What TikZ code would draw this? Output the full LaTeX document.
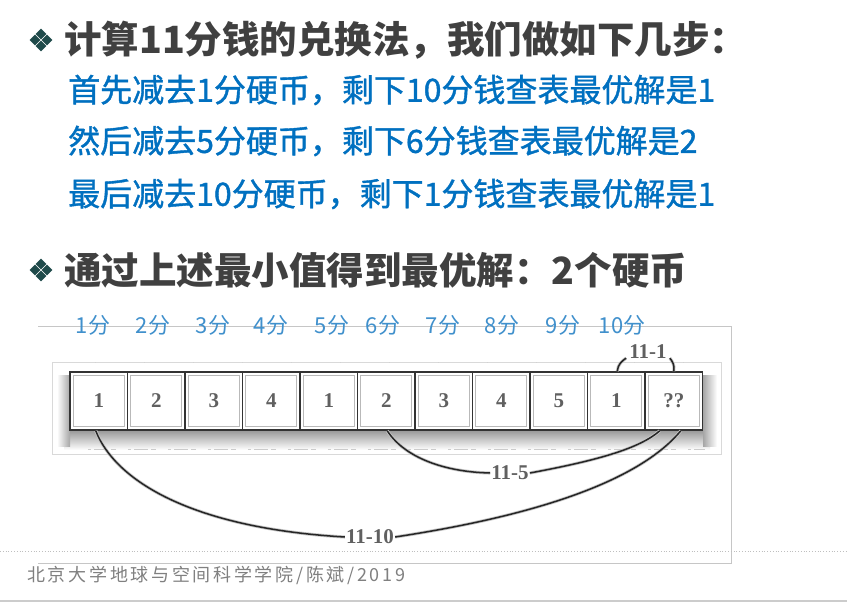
\documentclass[tikz,border=0pt]{standalone}
\usepackage{fontspec}
\newfontfamily\cjk{Noto Sans CJK SC}
\newfontfamily\cjkblue{Noto Sans CJK SC}[FakeBold=1.2]
\newfontfamily\cjkfoot{Noto Sans CJK SC}[LetterSpace=15]
\newfontfamily\numf{Liberation Serif}
\usetikzlibrary{calc}
\definecolor{titlegray}{HTML}{404040}
\definecolor{bluetxt}{HTML}{0070C0}
\definecolor{coinblue}{HTML}{4090CC}
\definecolor{bulletc}{HTML}{1F4A4A}
\definecolor{footgray}{HTML}{808080}
\definecolor{numgray}{HTML}{606060}
\tikzset{
  diabullet/.pic={
    \foreach \dx/\dy in {-6/0,6/0,0/-6,0/6}
      \fill[bulletc] (\dx-5.4,\dy)--(\dx,\dy-5.4)--(\dx+5.4,\dy)--(\dx,\dy+5.4)--cycle;
  },
  headtxt/.style={anchor=west, inner sep=0pt, text=titlegray, font=\cjk\bfseries\fontsize{37.5}{40}\selectfont},
  bluetext/.style={anchor=west, inner sep=0pt, text=bluetxt, font=\cjkblue\fontsize{32}{36}\selectfont},
  cointxt/.style={inner sep=0pt, text=coinblue, font=\cjk\fontsize{22}{24}\selectfont},
  coinbox/.style={draw=gray!40!black, line width=1.6pt, fill=white, minimum width=57.5pt, minimum height=58pt, inner sep=0pt, text=numgray, font=\numf\bfseries\fontsize{21}{21}\selectfont},
  arclabel/.style={inner sep=1pt, text=numgray, font=\numf\bfseries\fontsize{21}{21}\selectfont},
  arcline/.style={draw=gray!45, double=gray!30!black, double distance=1.5pt, line width=0.8pt},
  frameline/.style={draw=gray!45, line width=0.8pt},
}
\begin{document}
\begin{tikzpicture}[x=1pt,y=-1pt]
\useasboundingbox[fill=white] (0,0) rectangle (847,604);
% headings
\pic at (41,40) {diabullet};
\node[headtxt] (h1) at (64,40) {计算11分钱的兑换法，我们做如下几步：};
\node[bluetext] (t1) at (68,90) {首先减去1分硬币，剩下10分钱查表最优解是1};
\node[bluetext] (t2) at (68,141) {然后减去5分硬币，剩下6分钱查表最优解是2};
\node[bluetext] (t3) at (68,194) {最后减去10分硬币，剩下1分钱查表最优解是1};
\pic at (41,270) {diabullet};
\node[headtxt] (h2) at (64,270) {通过上述最小值得到最优解：2个硬币};
% frame
\draw[frameline] (38,326) -- (731,326) -- (731,563) -- (38,563);
% coin labels
\foreach \x/\t [count=\i] in {93/1,153/2,213/3,271/4,332/5,383/6,443/7,502/8,563/9,622/10}
  \node[cointxt] (c\i) at (\x,325) {\t 分};
% panel
\draw[draw=gray!30, line width=0.8pt, fill=white] (52,362) rectangle (721,454);
\shade[top color=gray!90, bottom color=white] (64,428) rectangle (710,450);
\shade[left color=white, right color=gray!70] (57,376) rectangle (70,446);
\shade[left color=gray!70, right color=white] (703,376) rectangle (717,446);
\draw[gray!40, line width=1pt, dash pattern=on 3pt off 3pt on 14pt off 3pt on 5pt off 12pt] (88,449) -- (705,449);
\draw[gray!35, line width=0.8pt, dash pattern=on 1pt off 48pt] (95,362.5) -- (700,362.5);
% boxes
\foreach \v [count=\i] in {1,2,3,4,1,2,3,4,5,1,??}{
  \node[coinbox] (b\i) at ({70+(\i-0.5)*57.5},401) {\v};
  \draw[gray!55, line width=0.8pt] ([xshift=4pt,yshift=4pt]b\i.south west) rectangle ([xshift=-4pt,yshift=-4pt]b\i.north east);
}
% labels
\node[arclabel] (l1) at (648,352) {11-1};
\node[arclabel] (l5) at (510,473) {11-5};
\node[arclabel] (l10) at (370,537) {11-10};
% arcs
\draw[arcline] ([xshift=1pt]b10.north) .. controls (618,364) and (622,361) .. ([xshift=-2pt,yshift=2pt]l1.south west);
\draw[arcline] ([xshift=2pt,yshift=2pt]l1.south east) .. controls (672,361) and (675,365) .. (b11.north);
\draw[arcline] ([xshift=1pt]b6.south) .. controls (405,458) and (445,472) .. (l5.west);
\draw[arcline] (l5.east) .. controls (600,460) and (640,448) .. ([xshift=-14pt]b11.south);
\draw[arcline] ([xshift=-3pt]b1.south) .. controls (115,480) and (190,528) .. (l10.west);
\draw[arcline] (l10.east) .. controls (540,515) and (640,480) .. ([xshift=7pt]b11.south);
% footer
\draw[gray!50, dotted, line width=0.8pt] (0,551) -- (847,551);
\node[anchor=west, inner sep=0pt, text=footgray, font=\cjkfoot\fontsize{18}{20}\selectfont] (ft) at (27,575) {北京大学地球与空间科学学院/陈斌/2019};
\draw[gray!40, line width=2pt] (0,601) -- (847,601);
\end{tikzpicture}
\end{document}
